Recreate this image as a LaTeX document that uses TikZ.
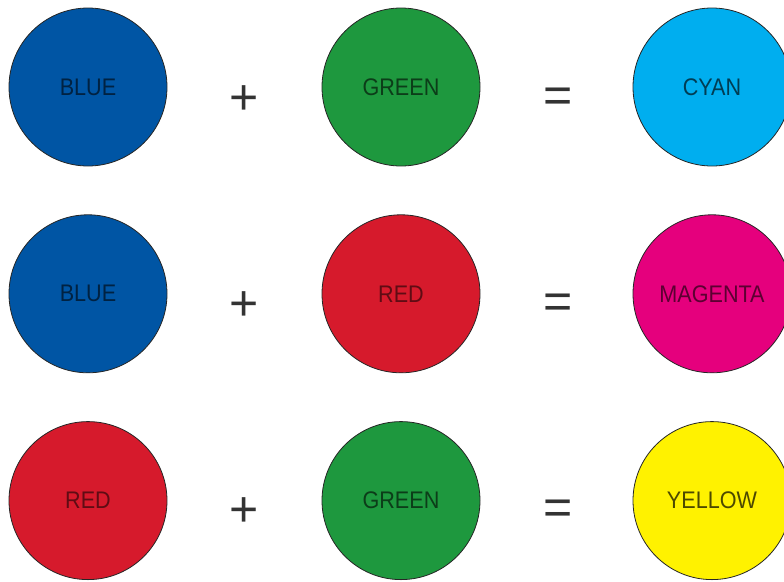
\documentclass[tikz,border=0pt]{standalone}
\usepackage{fontspec}
\usepackage{xcolor}
\usepackage{tikz}
\usetikzlibrary{
  positioning,
}
\newfontfamily\discfont[FakeStretch=0.9]{Liberation Sans}

\definecolor{cblue}{RGB}{0,85,164}
\definecolor{cgreen}{RGB}{30,152,62}
\definecolor{cred}{RGB}{214,26,44}
\definecolor{ccyan}{RGB}{0,174,239}
\definecolor{cmagenta}{RGB}{229,0,125}
\definecolor{cyellow}{RGB}{255,242,0}

\begin{document}
\begin{tikzpicture}[
  x=1pt, y=-1pt,
  disc/.style={
    circle, draw=black!85, line width=0.8pt,
    minimum size=158pt, inner sep=0pt,
    font=\discfont\fontsize{24}{24}\selectfont,
  },
  opsign/.style={font=\fontspec{Liberation Sans}\fontsize{50}{50}\selectfont, text=black!80, inner sep=0pt},
  node distance=48pt,
]
  \useasboundingbox (0,0) rectangle (784,581);

  % first row: blue + green = cyan
  \node[disc, fill=cblue, text=cblue!40!black]     (b1) at (88,87)  {BLUE};
  \node[disc, fill=cgreen, text=cgreen!40!black]   (g1) at (401,87) {GREEN};
  \node[disc, fill=ccyan, text=ccyan!35!black]     (c1) at (712,87) {CYAN};

  % second row: blue + red = magenta
  \node[disc, fill=cblue, text=cblue!40!black, below=of b1]         (b2) {BLUE};
  \node[disc, fill=cred, text=cred!45!black, below=of g1]           (r2) {RED};
  \node[disc, fill=cmagenta, text=cmagenta!40!black, below=of c1]   (m2) {MAGENTA};

  % third row: red + green = yellow
  \node[disc, fill=cred, text=cred!45!black, below=of b2]           (r3) {RED};
  \node[disc, fill=cgreen, text=cgreen!40!black, below=of r2]       (g3) {GREEN};
  \node[disc, fill=cyellow, text=cyellow!30!black, below=of m2]     (y3) {YELLOW};

  % operators
  \node[opsign] (p1) at (244,100) {+};
  \node[opsign] (e1) at (558,100) {=};
  \node[opsign] (p2) at (244,306) {+};
  \node[opsign] (e2) at (558,306) {=};
  \node[opsign] (p3) at (244,512) {+};
  \node[opsign] (e3) at (558,512) {=};
\end{tikzpicture}
\end{document}
